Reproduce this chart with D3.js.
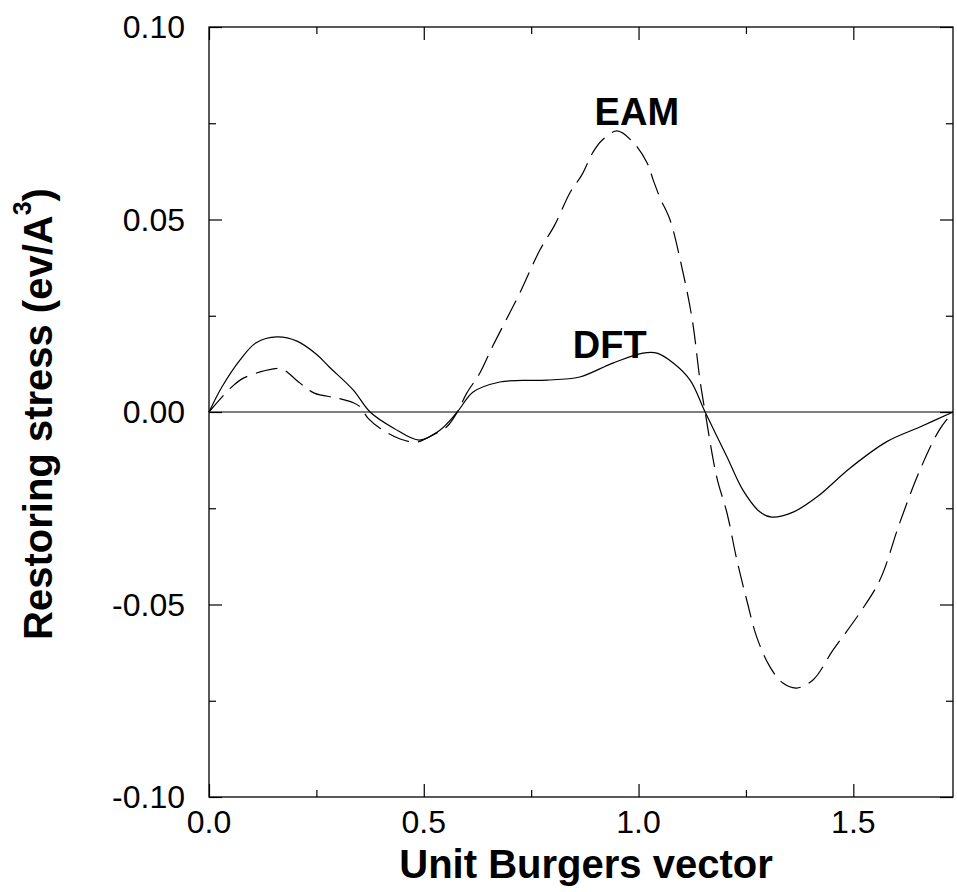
<!DOCTYPE html>
<html>
<head>
<meta charset="utf-8">
<script src="https://cdn.jsdelivr.net/npm/d3@7"></script>
<style>
  body { margin: 0; background: #fff; }
  text { font-family: "Liberation Sans", Arial, sans-serif; }
</style>
</head>
<body>
<div id="output"></div>
<script>
// DFT curve (solid)
var dftX = [0, 0.03, 0.072, 0.11, 0.158, 0.205, 0.25, 0.28, 0.336, 0.375, 0.43, 0.49, 0.538, 0.578, 0.615, 0.677, 0.73, 0.787, 0.863, 0.94, 1.01, 1.043, 1.08, 1.12, 1.155, 1.206, 1.243, 1.283, 1.31, 1.36, 1.415, 1.492, 1.578, 1.655, 1.732];
var dftY = [0, 0.0065, 0.0135, 0.0180, 0.0195, 0.0184, 0.0150, 0.0117, 0.0057, 0, -0.0042, -0.0073, -0.0047, 0, 0.0052, 0.0078, 0.0082, 0.0083, 0.0091, 0.0127, 0.0153, 0.0153, 0.0128, 0.0083, 0, -0.0117, -0.0203, -0.0260, -0.0273, -0.0260, -0.0221, -0.0146, -0.0077, -0.0039, 0];

// EAM curve (dashed)
var eamX = [0, 0.05, 0.08, 0.15, 0.17, 0.212, 0.245, 0.30, 0.336, 0.352, 0.37, 0.398, 0.445, 0.484, 0.52, 0.553, 0.578, 0.60, 0.63, 0.66, 0.70, 0.724, 0.77, 0.805, 0.84, 0.868, 0.894, 0.915, 0.95, 0.987, 1.02, 1.034, 1.05, 1.073, 1.10, 1.125, 1.143, 1.155, 1.182, 1.206, 1.229, 1.252, 1.275, 1.306, 1.336, 1.368, 1.406, 1.453, 1.515, 1.562, 1.608, 1.655, 1.70, 1.732];
var eamY = [0, 0.0062, 0.0088, 0.0112, 0.0112, 0.0075, 0.0049, 0.0036, 0.0024, 0.0013, -0.0016, -0.0042, -0.0070, -0.0078, -0.0060, -0.0039, 0, 0.0049, 0.0100, 0.0170, 0.0257, 0.0310, 0.0420, 0.0486, 0.0569, 0.0616, 0.0675, 0.0706, 0.0730, 0.0701, 0.0647, 0.0603, 0.0556, 0.0500, 0.0380, 0.0240, 0.0083, 0, -0.0169, -0.0263, -0.0385, -0.0489, -0.0584, -0.0662, -0.0704, -0.0717, -0.0696, -0.0618, -0.0522, -0.0436, -0.0288, -0.0151, -0.0047, 0];

var xTicks = [0, 0.5, 1.0, 1.5];
var xMinor = [0.25, 0.75, 1.25];
var yTicks = [-0.10, -0.05, 0, 0.05, 0.10];
var yMinor = [-0.075, -0.025, 0.025, 0.075];

var width = 957;
var height = 892;
var plotLeft = 209, plotRight = 953, plotTop = 27, plotBottom = 797;

var svg = d3.select('#output')
  .append('svg')
  .attr('width', width)
  .attr('height', height);

var xScale = d3.scaleLinear().domain([0, Math.sqrt(3)]).range([plotLeft, plotRight]);
var yScale = d3.scaleLinear().domain([-0.10, 0.10]).range([plotBottom, plotTop]);

// plain hyphen for negatives, like the original
var tickFmt = d => d3.format('.1f')(d).replace('\u2212', '-');
var yFmt = d => d3.format('.2f')(d).replace('\u2212', '-');

// ticks pointing inward on all four sides
function tickRow(axis, scale, tx, ty, values, size) {
  svg.append('g')
    .attr('transform', `translate(${tx}, ${ty})`)
    .call(axis(scale).tickValues(values).tickSize(size).tickFormat(''))
    .call(g => g.select('.domain').remove());
}
tickRow(d3.axisTop, xScale, 0, plotBottom, xTicks, 13);
tickRow(d3.axisTop, xScale, 0, plotBottom, xMinor, 7);
tickRow(d3.axisBottom, xScale, 0, plotTop, xTicks, 13);
tickRow(d3.axisBottom, xScale, 0, plotTop, xMinor, 7);
tickRow(d3.axisRight, yScale, plotLeft, 0, yTicks, 13);
tickRow(d3.axisRight, yScale, plotLeft, 0, yMinor, 7);
tickRow(d3.axisLeft, yScale, plotRight, 0, yTicks, 13);
tickRow(d3.axisLeft, yScale, plotRight, 0, yMinor, 7);

svg.selectAll('.tick line').attr('stroke', '#000').attr('stroke-width', 1.2);

// tick labels
svg.selectAll('.xlab')
  .data(xTicks)
  .enter()
  .append('text')
  .attr('x', d => xScale(d))
  .attr('y', plotBottom + 36)
  .attr('text-anchor', 'middle')
  .attr('font-size', 32)
  .text(d => tickFmt(d));

svg.selectAll('.ylab')
  .data(yTicks)
  .enter()
  .append('text')
  .attr('x', plotLeft - 24)
  .attr('y', d => yScale(d) + 11)
  .attr('text-anchor', 'end')
  .attr('font-size', 32)
  .text(d => yFmt(d));

// frame
svg.append('rect')
  .attr('x', plotLeft).attr('y', plotTop)
  .attr('width', plotRight - plotLeft).attr('height', plotBottom - plotTop)
  .attr('fill', 'none').attr('stroke', '#000').attr('stroke-width', 1.3);

// zero line
svg.append('line')
  .attr('x1', plotLeft).attr('x2', plotRight)
  .attr('y1', yScale(0)).attr('y2', yScale(0))
  .attr('stroke', '#000').attr('stroke-width', 1.2);

var line = d3.line()
  .x(d => xScale(d[0]))
  .y(d => yScale(d[1]))
  .curve(d3.curveCatmullRom.alpha(0.5));

svg.append('path')
  .datum(dftX.map((x, i) => [x, dftY[i]]))
  .attr('d', line)
  .attr('fill', 'none')
  .attr('stroke', '#000')
  .attr('stroke-width', 1.2);

svg.append('path')
  .datum(eamX.map((x, i) => [x, eamY[i]]))
  .attr('d', line)
  .attr('fill', 'none')
  .attr('stroke', '#000')
  .attr('stroke-width', 1.2)
  .attr('stroke-dasharray', '22,9');

// curve labels
svg.append('text')
  .attr('x', xScale(0.996)).attr('y', yScale(0.0745))
  .attr('text-anchor', 'middle')
  .attr('font-size', 38).attr('font-weight', 'bold')
  .text('EAM');
svg.append('text')
  .attr('x', xScale(0.933)).attr('y', yScale(0.014))
  .attr('text-anchor', 'middle')
  .attr('font-size', 38).attr('font-weight', 'bold')
  .text('DFT');

// axis titles
svg.append('text')
  .attr('x', (plotLeft + plotRight) / 2 + 5).attr('y', 878)
  .attr('text-anchor', 'middle')
  .attr('font-size', 40).attr('font-weight', 'bold')
  .text('Unit Burgers vector');

var yt = svg.append('text')
  .attr('transform', `translate(52, 414) rotate(-90)`)
  .attr('text-anchor', 'middle')
  .attr('font-size', 40).attr('font-weight', 'bold');
yt.append('tspan').text('Restoring stress (ev/A');
yt.append('tspan').attr('font-size', 25).attr('dy', -21).text('3');
yt.append('tspan').attr('dy', 21).text(')');
</script>
</body>
</html>
